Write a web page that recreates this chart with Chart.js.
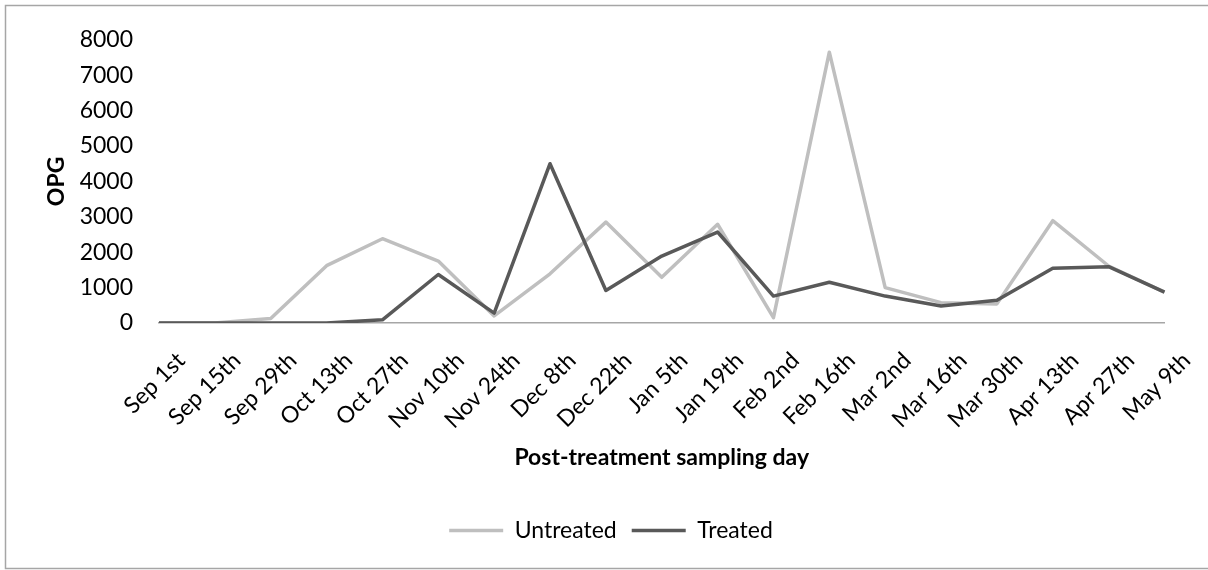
<!DOCTYPE html>
<html lang="en">
<head>
  <meta charset="UTF-8">
  <title>OPG</title>
  <style>
    body { margin: 0; background: #fff; }
  </style>
</head>
<body>

  <!-- Gráfico de OPG por día de muestreo -->
  <canvas id="graficoOPG" width="1208" height="570"></canvas>

  <script src="https://cdn.jsdelivr.net/npm/chart.js"></script>
  <script>
    // Días de muestreo (eje X)
    const dias = ['Sep 1st', 'Sep 15th', 'Sep 29th', 'Oct 13th', 'Oct 27th', 'Nov 10th', 'Nov 24th',
      'Dec 8th', 'Dec 22th', 'Jan 5th', 'Jan 19th', 'Feb 2nd', 'Feb 16th', 'Mar 2nd',
      'Mar 16th', 'Mar 30th', 'Apr 13th', 'Apr 27th', 'May 9th'];

    // Valores
    const sinTratar = [0, 0, 130, 1620, 2380, 1750, 200, 1390, 2850, 1290, 2790, 150, 7650, 1000, 575, 540, 2890, 1610, 870];
    const tratados = [0, 0, 0, 0, 90, 1370, 280, 4500, 920, 1890, 2570, 760, 1150, 760, 480, 640, 1545, 1590, 870];

    // Marcas del eje Y
    const ejeYMin = 0;
    const ejeYMax = 8000;
    const ejeYPaso = 1000;

    Chart.defaults.font.family = 'Lato, "Open Sans", sans-serif';
    Chart.defaults.color = '#000';

    // Marco gris alrededor del gráfico
    const marco = {
      id: 'marco',
      beforeDraw(chart) {
        const c = chart.ctx;
        c.save();
        c.strokeStyle = '#a6a6a6';
        c.lineWidth = 1.5;
        c.strokeRect(5.5, 5.5, 1220, 563);
        c.restore();
      }
    };

    // Centrar la leyenda como en el original
    const ajusteLeyenda = {
      id: 'ajusteLeyenda',
      afterLayout(chart) {
        chart.legend.left = 6;
        chart.legend.right = 1216;
      }
    };

    const ctx = document.getElementById('graficoOPG').getContext('2d');
    const graficoOPG = new Chart(ctx, {
      type: 'line',
      data: {
        labels: dias,
        datasets: [
          {
            label: 'Untreated',
            data: sinTratar,
            borderColor: '#bfbfbf',
            backgroundColor: '#bfbfbf',
            borderWidth: 3.5,
            pointRadius: 0,
            tension: 0,
            borderJoinStyle: 'round',
            order: 2
          },
          {
            label: 'Treated',
            data: tratados,
            borderColor: '#595959',
            backgroundColor: '#595959',
            borderWidth: 3.5,
            pointRadius: 0,
            tension: 0,
            borderJoinStyle: 'round',
            order: 1
          }
        ]
      },
      options: {
        responsive: false,
        animation: false,
        devicePixelRatio: 1,
        layout: { padding: { left: 6, top: 34, right: 27, bottom: 18 } },
        scales: {
          x: {
            grid: { display: false, drawTicks: false },
            border: { display: true, color: '#a6a6a6', width: 1.5 },
            ticks: { autoSkip: false, minRotation: 45, maxRotation: 45, padding: 24, labelOffset: 22, font: { size: 23 } },
            title: {
              display: true,
              text: 'Post-treatment sampling day',
              font: { size: 23, weight: 'bold' },
              padding: { top: 0, bottom: 33 }
            },
            afterFit: escala => { escala.height = 181; }
          },
          y: {
            min: ejeYMin,
            max: ejeYMax,
            grid: { display: false, drawTicks: false },
            border: { display: false },
            ticks: { stepSize: ejeYPaso, padding: 26, font: { size: 23 }, callback: v => String(v) },
            title: {
              display: true,
              text: 'OPG',
              font: { size: 23, weight: 'bold' },
              padding: { top: 37, bottom: 0 }
            },
            afterFit: escala => { escala.width = 153; }
          }
        },
        plugins: {
          legend: {
            position: 'bottom',
            labels: {
              usePointStyle: true,
              pointStyle: 'line',
              pointStyleWidth: 54,
              padding: 15,
              font: { size: 23 },
              sort: (a, b) => a.datasetIndex - b.datasetIndex
            }
          },
          tooltip: { enabled: false }
        }
      },
      plugins: [marco, ajusteLeyenda]
    });
  </script>
</body>
</html>
